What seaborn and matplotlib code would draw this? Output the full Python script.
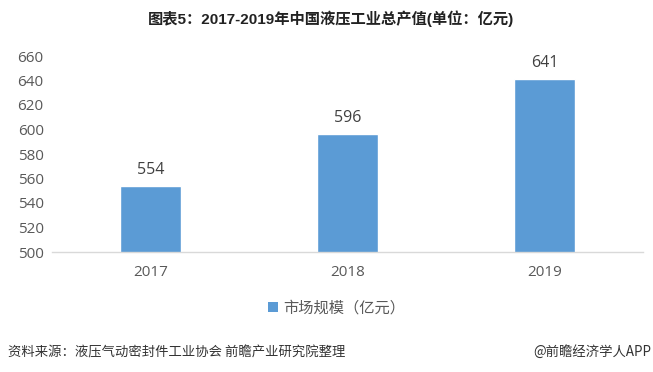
import matplotlib
matplotlib.use("Agg")
import matplotlib.pyplot as plt
from matplotlib.patches import Patch
import seaborn as sns
import pandas as pd

years = ["2017", "2018", "2019"]
values = [554, 596, 641]
yticks = [500, 520, 540, 560, 580, 600, 620, 640, 660]
title = "图表5：2017-2019年中国液压工业总产值(单位：亿元)"
legend_label = "市场规模（亿元）"
source = "资料来源：液压气动密封件工业协会 前瞻产业研究院整理"
credit = "@前瞻经济学人APP"

sns.set_theme(style="white")
plt.rcParams['font.family'] = ['Noto Sans CJK SC', 'DejaVu Sans']

bar_color = "#5B9BD5"
df = pd.DataFrame({"year": years, "value": values})

fig = plt.figure(figsize=(6.53, 3.72), dpi=100)
ax = fig.add_axes([52/653, (372-252)/372, (643-52)/653, (252-56)/372])
sns.barplot(data=df, x="year", y="value", color=bar_color, width=0.31,
            saturation=1, ax=ax)
ax.set_xlim(-0.5, 2.5)
ax.set_ylim(500, 660)
ax.set_yticks(yticks)
ax.set_xlabel("")
ax.set_ylabel("")
for s in ["top", "right", "left"]:
    ax.spines[s].set_visible(False)
ax.spines["bottom"].set_color("#D9D9D9")
ax.spines["bottom"].set_linewidth(1)
ax.tick_params(axis="both", length=0, labelsize=11, colors="#595959", pad=6)
ax.tick_params(axis="x", pad=9)
for lab in ax.get_yticklabels() + ax.get_xticklabels():
    lab.set_fontfamily(['Open Sans', 'DejaVu Sans'])

for c in ax.containers:
    ax.bar_label(c, labels=[str(v) for v in values], padding=6,
                 fontsize=11.5, color="#404040", family=['Open Sans', 'DejaVu Sans'])

fig.text(331/653, 1 - 19/372, title, ha="center", va="center", fontsize=11,
         fontweight="bold", color="#222222", family=['Liberation Sans', 'Noto Sans CJK SC'])

handle = Patch(facecolor=bar_color, edgecolor="none")
fig.legend([handle], [legend_label], loc="center", bbox_to_anchor=(337/653, 1 - 308/372),
           frameon=False, fontsize=11, handlelength=0.6, handleheight=0.6,
           handletextpad=0.4, labelcolor="#595959")

fig.text(8/653, 1 - 352/372, source, ha="left", va="center", fontsize=9.6, color="#333333")
fig.text(651/653, 1 - 352/372, credit, ha="right", va="center", fontsize=9.6, color="#333333")

fig.savefig("out.png", dpi=100)
